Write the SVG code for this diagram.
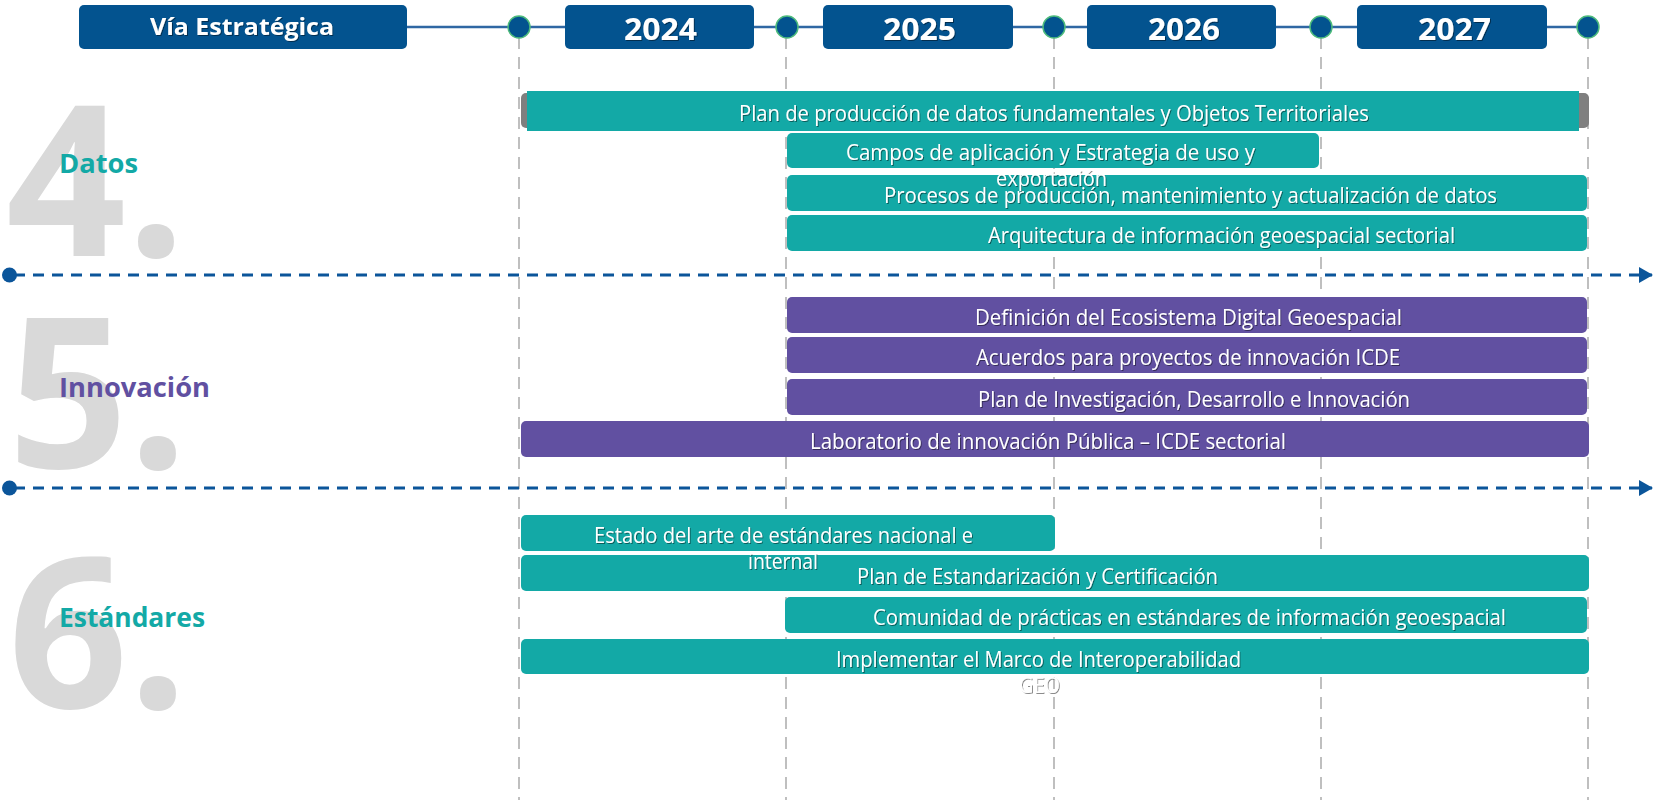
<svg xmlns="http://www.w3.org/2000/svg" width="1654" height="800" viewBox="0 0 1654 800">
<defs>
<filter id="ts" x="-5%" y="-30%" width="110%" height="160%">
<feDropShadow dx="1" dy="1" stdDeviation="0.7" flood-color="#000" flood-opacity="0.45"/>
</filter>
<marker id="arr" markerWidth="14" markerHeight="16" refX="13" refY="8" orient="auto" markerUnits="userSpaceOnUse">
<path d="M0,0 L14,8 L0,16 Z" fill="#0B559A"/>
</marker>
<style>
.hdr{fill:#03538F}
.hdrt{font-family:"Open Sans","Noto Sans",sans-serif;font-weight:700;fill:#fff;text-anchor:start}
.big{font-family:"Open Sans","Noto Sans",sans-serif;font-weight:700;font-size:210px;fill:#D9D9D9}
.sec{font-family:"Open Sans","Noto Sans",sans-serif;font-weight:700;font-size:26px}
.teal{fill:#13A9A6}
.purp{fill:#6150A1}
.bt{font-family:"Open Sans","Noto Sans",sans-serif;font-size:21px;fill:#fff}
.vdash{stroke:#BFBFBF;stroke-width:2;stroke-dasharray:12 8;fill:none}
.hdash{stroke:#0B559A;stroke-width:3;stroke-dasharray:11 8;fill:none}
.dot{fill:#03538F;stroke:#4DBB7C;stroke-width:1.5}
</style>
</defs>
<rect width="1654" height="800" fill="#fff"/>

<g id="gridlines">
<line class="vdash" x1="519" y1="37" x2="519" y2="800"/>
<line class="vdash" x1="786" y1="37" x2="786" y2="800"/>
<line class="vdash" x1="1054" y1="37" x2="1054" y2="800"/>
<line class="vdash" x1="1321" y1="37" x2="1321" y2="800"/>
<line class="vdash" x1="1588" y1="37" x2="1588" y2="800"/>
</g>

<g id="section-numbers">
<text class="big" x="6" y="256">4.</text>
<text class="big" x="8" y="468">5.</text>
<text class="big" x="8" y="708">6.</text>
</g>

<g id="connectors">
<line x1="407" y1="27" x2="1588" y2="27" stroke="#2F67A3" stroke-width="2.5"/>
<line class="hdash" x1="14" y1="275" x2="1652" y2="275" marker-end="url(#arr)"/>
<line class="hdash" x1="14" y1="488" x2="1652" y2="488" marker-end="url(#arr)"/>
<circle cx="9.5" cy="275" r="7.5" fill="#0B559A"/>
<circle cx="9.5" cy="488" r="7.5" fill="#0B559A"/>
</g>

<g id="header-via">
<rect class="hdr" x="79" y="5" width="328" height="44" rx="5"/>
<text class="hdrt" x="150" y="35" font-size="23" textLength="184" lengthAdjust="spacingAndGlyphs" filter="url(#ts)">Vía Estratégica</text>
</g>
<g id="header-2024">
<rect class="hdr" x="565" y="5" width="189" height="44" rx="5"/>
<text class="hdrt" x="624" y="40" font-size="31" textLength="73" lengthAdjust="spacingAndGlyphs" filter="url(#ts)">2024</text>
</g>
<g id="header-2025">
<rect class="hdr" x="823" y="5" width="190" height="44" rx="5"/>
<text class="hdrt" x="883" y="40" font-size="31" textLength="73" lengthAdjust="spacingAndGlyphs" filter="url(#ts)">2025</text>
</g>
<g id="header-2026">
<rect class="hdr" x="1087" y="5" width="189" height="44" rx="5"/>
<text class="hdrt" x="1148" y="40" font-size="31" textLength="72" lengthAdjust="spacingAndGlyphs" filter="url(#ts)">2026</text>
</g>
<g id="header-2027">
<rect class="hdr" x="1357" y="5" width="190" height="44" rx="5"/>
<text class="hdrt" x="1418" y="40" font-size="31" textLength="73" lengthAdjust="spacingAndGlyphs" filter="url(#ts)">2027</text>
</g>

<g id="milestones">
<circle class="dot" cx="519" cy="27" r="11"/>
<circle class="dot" cx="787" cy="27" r="11"/>
<circle class="dot" cx="1054" cy="27" r="11"/>
<circle class="dot" cx="1321" cy="27" r="11"/>
<circle class="dot" cx="1588" cy="27" r="11"/>
</g>

<g id="label-datos"><text class="sec teal" x="59" y="173" textLength="79" lengthAdjust="spacingAndGlyphs">Datos</text></g>
<g id="label-innovacion"><text class="sec purp" x="59" y="397" textLength="151" lengthAdjust="spacingAndGlyphs">Innovación</text></g>
<g id="label-estandares"><text class="sec teal" x="59" y="627" textLength="146" lengthAdjust="spacingAndGlyphs">Estándares</text></g>

<!-- Datos -->
<g id="bar-plan-produccion">
<rect x="521" y="93" width="68" height="35" rx="5" fill="#7F7F7F"/>
<rect x="1521" y="93" width="68" height="35" rx="5" fill="#7F7F7F"/>
<rect class="teal" x="527" y="91" width="1052" height="40"/>
<text class="bt" x="739" y="121" textLength="630" lengthAdjust="spacingAndGlyphs" filter="url(#ts)">Plan de producción de datos fundamentales y Objetos Territoriales</text>
</g>
<g id="bar-procesos">
<rect class="teal" x="787" y="175" width="800" height="36" rx="5"/>
<text class="bt" x="884" y="203" textLength="613" lengthAdjust="spacingAndGlyphs" filter="url(#ts)">Procesos de producción, mantenimiento y actualización de datos</text>
</g>
<g id="bar-campos">
<rect class="teal" x="787" y="133" width="532" height="35" rx="5"/>
<text class="bt" x="846" y="160" textLength="409" lengthAdjust="spacingAndGlyphs" filter="url(#ts)">Campos de aplicación y Estrategia de uso y</text>
<text class="bt" x="996" y="186" textLength="111" lengthAdjust="spacingAndGlyphs" filter="url(#ts)">exportación</text>
</g>
<g id="bar-arquitectura">
<rect class="teal" x="787" y="215" width="800" height="36" rx="5"/>
<text class="bt" x="988" y="243" textLength="467" lengthAdjust="spacingAndGlyphs" filter="url(#ts)">Arquitectura de información geoespacial sectorial</text>
</g>

<!-- Innovación -->
<g id="bar-definicion">
<rect class="purp" x="787" y="297" width="800" height="36" rx="5"/>
<text class="bt" x="975" y="325" textLength="427" lengthAdjust="spacingAndGlyphs" filter="url(#ts)">Definición del Ecosistema Digital Geoespacial</text>
</g>
<g id="bar-acuerdos">
<rect class="purp" x="787" y="337" width="800" height="36" rx="5"/>
<text class="bt" x="976" y="365" textLength="424" lengthAdjust="spacingAndGlyphs" filter="url(#ts)">Acuerdos para proyectos de innovación ICDE</text>
</g>
<g id="bar-plan-investigacion">
<rect class="purp" x="787" y="379" width="800" height="36" rx="5"/>
<text class="bt" x="978" y="407" textLength="432" lengthAdjust="spacingAndGlyphs" filter="url(#ts)">Plan de Investigación, Desarrollo e Innovación</text>
</g>
<g id="bar-laboratorio">
<rect class="purp" x="521" y="421" width="1068" height="36" rx="5"/>
<text class="bt" x="810" y="449" textLength="476" lengthAdjust="spacingAndGlyphs" filter="url(#ts)">Laboratorio de innovación Pública – ICDE sectorial</text>
</g>

<!-- Estándares -->
<g id="bar-plan-estandarizacion">
<rect class="teal" x="521" y="555" width="1068" height="36" rx="5"/>
<text class="bt" x="857" y="584" textLength="361" lengthAdjust="spacingAndGlyphs" filter="url(#ts)">Plan de Estandarización y Certificación</text>
</g>
<g id="bar-estado-arte">
<rect class="teal" x="521" y="515" width="534" height="36" rx="5"/>
<text class="bt" x="594" y="543" textLength="379" lengthAdjust="spacingAndGlyphs" filter="url(#ts)">Estado del arte de estándares nacional e</text>
<text class="bt" x="748" y="569" textLength="70" lengthAdjust="spacingAndGlyphs" filter="url(#ts)">internal</text>
</g>
<g id="bar-comunidad">
<rect class="teal" x="785" y="597" width="802" height="36" rx="5"/>
<text class="bt" x="873" y="625" textLength="633" lengthAdjust="spacingAndGlyphs" filter="url(#ts)">Comunidad de prácticas en estándares de información geoespacial</text>
</g>
<g id="bar-implementar">
<rect class="teal" x="521" y="639" width="1068" height="35" rx="5"/>
<text class="bt" x="836" y="667" textLength="405" lengthAdjust="spacingAndGlyphs" filter="url(#ts)">Implementar el Marco de Interoperabilidad</text>
<text class="bt" x="1019" y="693" textLength="41" lengthAdjust="spacingAndGlyphs" filter="url(#ts)">GEO</text>
</g>
</svg>
